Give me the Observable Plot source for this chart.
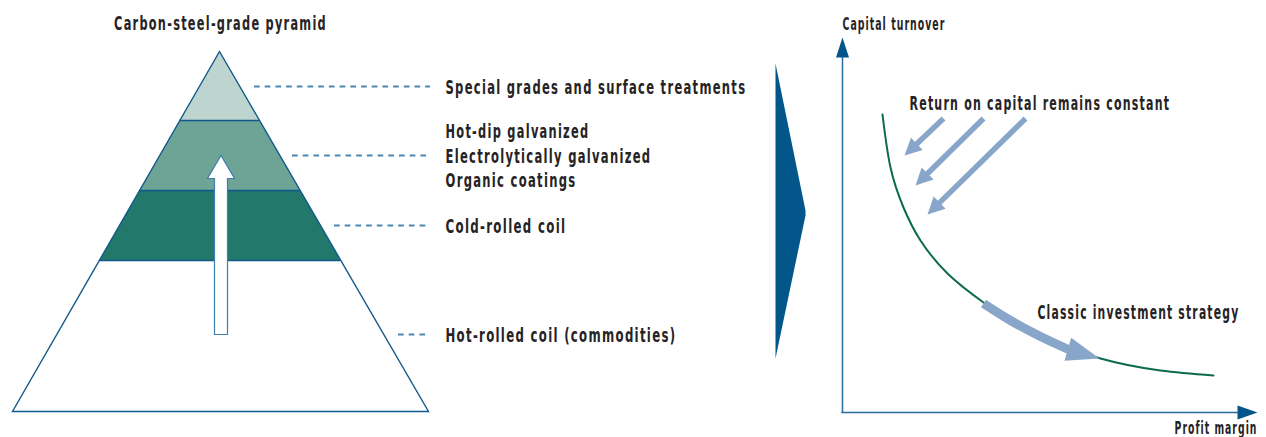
<!DOCTYPE html>
<html>
<head>
<meta charset="utf-8">
<script src="https://cdn.jsdelivr.net/npm/d3@7"></script>
<script src="https://cdn.jsdelivr.net/npm/@observablehq/plot@0.6"></script>
<style>
  html, body { margin: 0; padding: 0; background: #fff; }
  #chart svg { display: block; }
  #chart svg text { font-family: "DejaVu Sans", sans-serif; font-stretch: condensed; letter-spacing: 0.1em; }
</style>
</head>
<body>
<div id="chart"></div>
<script>
// ---- Diagram geometry (canvas units, y grows downward) ----

// Carbon-steel-grade pyramid: apex, base and the horizontal tier boundaries
const pyramidApex = {x: 219, y: 51};
const pyramidBase = {y: 411, x1: 12, x2: 428};
const tierEdges = [51, 120, 190, 260, 411];
const tierNames = ["special", "coated", "cold", "hot"];

// Tier labels and where their dashed leaders sit
const tierLabels = [
  ["Special grades and surface treatments"],
  ["Hot-dip galvanized", "Electrolytically galvanized", "Organic coatings"],
  ["Cold-rolled coil"],
  ["Hot-rolled coil (commodities)"]
];
const labelRows = [86, 155, 225, 334];
const leaderStarts = [254, 292, 334, 398];
const leaderEnd = 430;
const labelX = 445;

// Upgrade arrow inside the pyramid
const upgradeArrow = {x: 220.5, tail: 334, neck: 178, tip: 155};

// Chevron between the two panels
const chevron = [[775, 63], [805, 210], [805, 215], [775, 358]];

// Profit margin / capital turnover frame
const origin = {x: 842, y: 412};
const turnoverAxisTop = 37;
const marginAxisEnd = 1257;

// Constant return-on-capital curve
const curvePoints = [
  [882, 114], [890, 167], [903, 207], [920, 240], [947, 273],
  [983, 302], [1033, 333], [1100, 358], [1160, 370], [1213, 375]
];

// Shift arrows toward the curve
const shiftArrows = [
  {from: [943, 118], to: [904, 155]},
  {from: [983, 118], to: [915, 185]},
  {from: [1025, 118], to: [927, 214]}
];

// Classic investment strategy: path along the curve and its tip
const classicPath = [[983, 303], [1010, 320], [1040, 336], [1068, 349]];
const classicTip = [1099, 358];

// Free-standing labels
const chartTitle = "Carbon-steel-grade pyramid";
const yAxisLabel = "Capital turnover";
const xAxisLabel = "Profit margin";
const returnLabel = "Return on capital remains constant";
const classicLabel = "Classic investment strategy";

// ---- Styles ----
const palette = {
  special: "#bed5cf",
  coated: "#6ea496",
  cold: "#22786a",
  hot: "#ffffff",
  outline: "#11598c",
  leader: "#4a88b3",
  chevron: "#02568a",
  axis: "#2a6c9e",
  axisHead: "#02568a",
  curve: "#0b6a4f",
  arrow: "#88a6c9",
  text: "#262324"
};
const font = "'DejaVu Sans', sans-serif";
const lineGap = 24.5;

// Set widths of each text run (the typeface is a tightly set condensed gothic)
const runWidths = new Map([
  [chartTitle, 213],
  ["Special grades and surface treatments", 301],
  ["Hot-dip galvanized", 144],
  ["Electrolytically galvanized", 206],
  ["Organic coatings", 131],
  ["Cold-rolled coil", 121],
  ["Hot-rolled coil (commodities)", 231],
  [yAxisLabel, 103],
  [xAxisLabel, 83],
  [returnLabel, 261],
  [classicLabel, 202]
]);

// ---- Geometry helpers ----
const W = 1266, H = 437;
const edgeX = (y, side) => {
  const t = (y - pyramidApex.y) / (pyramidBase.y - pyramidApex.y);
  const base = side < 0 ? pyramidBase.x1 : pyramidBase.x2;
  return pyramidApex.x + t * (base - pyramidApex.x);
};
const closed = (pts) => [...pts, pts[0]];

const tiers = tierNames.map((name, i) => {
  const t = tierEdges[i], b = tierEdges[i + 1];
  return {name, pts: closed([[edgeX(t, -1), t], [edgeX(t, 1), t], [edgeX(b, 1), b], [edgeX(b, -1), b]])};
});

const triangle = closed([[pyramidApex.x, pyramidApex.y], [pyramidBase.x2, pyramidBase.y], [pyramidBase.x1, pyramidBase.y]]);

const upgradePolygon = closed([
  [upgradeArrow.x - 6.5, upgradeArrow.tail],
  [upgradeArrow.x - 6.5, upgradeArrow.neck],
  [upgradeArrow.x - 13.5, upgradeArrow.neck],
  [upgradeArrow.x, upgradeArrow.tip],
  [upgradeArrow.x + 13.5, upgradeArrow.neck],
  [upgradeArrow.x + 6.5, upgradeArrow.neck],
  [upgradeArrow.x + 6.5, upgradeArrow.tail]
]);

// Label lines, stacked around each leader row
const labelLines = tierLabels.flatMap((lines, i) =>
  lines.map((text, j) => ({text, y: labelRows[i] + 1 + (j - (lines.length - 1) / 2) * lineGap}))
);

// Filled triangular arrow head pointing from `from` to `tip`
function headPolygon(from, tip, len, half) {
  const dx = tip[0] - from[0], dy = tip[1] - from[1];
  const d = Math.hypot(dx, dy), ux = dx / d, uy = dy / d;
  const bx = tip[0] - ux * len, by = tip[1] - uy * len;
  return closed([[bx - uy * half, by + ux * half], tip, [bx + uy * half, by - ux * half]]);
}

const shiftShafts = shiftArrows.map(a => {
  const dx = a.to[0] - a.from[0], dy = a.to[1] - a.from[1];
  const d = Math.hypot(dx, dy);
  return {x1: a.from[0], y1: a.from[1], x2: a.to[0] - dx / d * 12, y2: a.to[1] - dy / d * 12};
});
const shiftHeads = shiftArrows.map(a => headPolygon(a.from, a.to, 17, 8.5));

const yHead = closed([[origin.x - 6.5, turnoverAxisTop + 20], [origin.x, turnoverAxisTop], [origin.x + 6.5, turnoverAxisTop + 20]]);
const xHead = closed([[marginAxisEnd - 20, origin.y - 7], [marginAxisEnd, origin.y], [marginAxisEnd - 20, origin.y + 7]]);

const classicHead = headPolygon(classicPath[classicPath.length - 1], classicTip, 33, 12);

const polygon = (pts, options) => Plot.line(pts, {x: "0", y: "1", strokeLinejoin: "miter", strokeMiterlimit: 10, ...options});
const txt = {fill: palette.text, fontFamily: font, fontWeight: "bold", lineAnchor: "middle"};

const chart = Plot.plot({
  width: W,
  height: H,
  margin: 0,
  x: {domain: [0, W], range: [0, W], axis: null},
  y: {domain: [0, H], range: [0, H], axis: null},
  style: {background: "#fff"},
  marks: [
    // pyramid tiers
    ...tiers.map(t => polygon(t.pts, {fill: palette[t.name], stroke: "none"})),
    Plot.ruleY(tierEdges.slice(1, -1), {x1: (y) => edgeX(y, -1), x2: (y) => edgeX(y, 1), stroke: palette.outline, strokeWidth: 1.3}),
    polygon(triangle, {stroke: palette.outline, strokeWidth: 1.4}),
    polygon(upgradePolygon, {fill: "#fff", stroke: "#3e7fae", strokeWidth: 1.2}),

    // dashed leaders and tier labels
    Plot.ruleY(labelRows, {x1: (d, i) => leaderStarts[i], x2: leaderEnd, stroke: palette.leader, strokeWidth: 1.8, strokeDasharray: "5.7,5"}),
    Plot.text(labelLines, {x: labelX, y: "y", text: "text", textAnchor: "start", fontSize: 20, ...txt}),
    Plot.text([chartTitle], {x: 220, y: 23, text: d => d, textAnchor: "middle", fontSize: 20, ...txt}),

    // chevron
    polygon(closed(chevron), {fill: palette.chevron, stroke: "none"}),

    // axes
    Plot.ruleX([origin.x], {y1: turnoverAxisTop + 18, y2: origin.y, stroke: palette.axis, strokeWidth: 1.5}),
    Plot.ruleY([origin.y], {x1: origin.x - 0.75, x2: marginAxisEnd - 18, stroke: palette.axis, strokeWidth: 1.5}),
    polygon(yHead, {fill: palette.axisHead, stroke: "none"}),
    polygon(xHead, {fill: palette.axisHead, stroke: "none"}),
    Plot.text([yAxisLabel], {x: origin.x, y: 24, text: d => d, textAnchor: "start", fontSize: 18, ...txt}),
    Plot.text([xAxisLabel], {x: marginAxisEnd, y: 427.5, text: d => d, textAnchor: "end", fontSize: 18, ...txt}),

    // constant return curve
    Plot.line(curvePoints, {x: "0", y: "1", curve: "natural", stroke: palette.curve, strokeWidth: 2}),

    // shift arrows
    Plot.link(shiftShafts, {x1: "x1", y1: "y1", x2: "x2", y2: "y2", stroke: palette.arrow, strokeWidth: 5.5, strokeLinecap: "butt"}),
    ...shiftHeads.map(h => polygon(h, {fill: palette.arrow, stroke: "none"})),
    Plot.text([returnLabel], {x: 909, y: 103, text: d => d, textAnchor: "start", fontSize: 20, ...txt}),

    // classic investment strategy arrow
    Plot.line(classicPath, {x: "0", y: "1", curve: "natural", stroke: palette.arrow, strokeWidth: 9, strokeLinecap: "butt"}),
    polygon(classicHead, {fill: palette.arrow, stroke: "none"}),
    Plot.text([classicLabel], {x: 1037, y: 312, text: d => d, textAnchor: "start", fontSize: 20, ...txt})
  ]
});

document.getElementById("chart").appendChild(chart);

// Narrow each text run horizontally (about its anchor) to its set width
d3.select(chart).selectAll("text").each(function () {
  const w = runWidths.get(this.textContent);
  if (!w) return;
  const natural = this.getComputedTextLength();
  if (!natural) return;
  const base = this.getAttribute("transform") || "";
  this.setAttribute("transform", `${base} scale(${(w / natural).toFixed(4)},1)`);
});
</script>
</body>
</html>
